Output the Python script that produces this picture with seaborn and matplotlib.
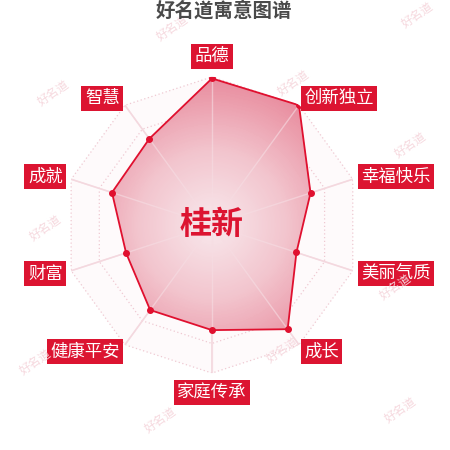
import numpy as np
import matplotlib
matplotlib.use("Agg")
import matplotlib.pyplot as plt
import seaborn as sns
from matplotlib.colors import LinearSegmentedColormap

sns.set_style("white")
plt.rcParams['font.family'] = ['Noto Sans CJK SC', 'DejaVu Sans']

TITLE = "好名道寓意图谱"
NAME = "桂新"
categories = ["品德", "创新独立", "幸福快乐", "美丽气质", "成长",
              "家庭传承", "健康平安", "财富", "成就", "智慧"]
scores = [99, 100, 70, 60, 87, 71, 71, 61, 71, 72]
rings = [20, 40, 60, 80, 100]
MAX_SCORE = 100

RED = "#dc1431"
LINE_RED = "#e0102f"

# watermark spots (pixel positions on the 450x450 canvas)
wm_x = [172, 417, 293, 53, 410, 45, 35, 282, 160, 400, 395]
wm_y = [28, 15, 83, 93, 145, 228, 362, 350, 420, 410, 287]


def draw_watermarks(fig):
    for x, y in zip(wm_x, wm_y):
        fig.text(x / 450, 1 - y / 450, "好名道", rotation=35, fontsize=8.5,
                 color="#f6d8de", ha="center", va="center", zorder=0)


def draw_radar(fig):
    ax = fig.add_axes([0.142, 0.171, 0.658, 0.658], projection="polar")
    ax.set_theta_zero_location("N")
    ax.set_theta_direction(-1)
    ax.set_ylim(0, MAX_SCORE)
    ax.grid(False)
    ax.set_xticks([])
    ax.set_yticks([])
    ax.spines["polar"].set_visible(False)
    ax.patch.set_alpha(0)

    n = len(categories)
    angles = np.linspace(0, 2 * np.pi, n, endpoint=False)
    closed = np.append(angles, angles[0])

    # faint backdrop of the outer decagon
    ax.fill(closed, [MAX_SCORE] * (n + 1), color="#fefafb", zorder=1, lw=0)

    # dotted rings and spokes
    for r in rings:
        ax.plot(closed, [r] * (n + 1), color="#efc9d2", lw=0.9,
                ls=(0, (1, 2)), zorder=2)
    for a in angles:
        ax.plot([a, a], [0, MAX_SCORE], color="#f2d3da", lw=1.1, zorder=2)

    # score polygon with radial gradient fill
    vals = np.append(scores, scores[0])
    poly = ax.fill(closed, vals, facecolor="none", edgecolor="none", zorder=3)[0]
    cmap = LinearSegmentedColormap.from_list(
        "grad", ["#f8e8ec", "#f2c4cd", "#e88b9d"])
    th = np.linspace(0, 2 * np.pi, 181)
    rr = np.linspace(0, MAX_SCORE, 101)
    T, R = np.meshgrid(th, rr)
    mesh = ax.pcolormesh(T, R, R[:-1, :-1], cmap=cmap, vmin=0, vmax=MAX_SCORE,
                         shading="flat", zorder=3)
    mesh.set_clip_path(poly)
    # spokes visible through the fill
    for a in angles:
        ax.plot([a, a], [0, MAX_SCORE], color="#f6dde3", lw=1.0, alpha=0.6,
                zorder=4)
    ax.plot(closed, vals, color=LINE_RED, lw=1.3, zorder=5)
    ax.plot(angles, scores, "o", color=LINE_RED, ms=4, zorder=6)

    # axis name tags
    for a, label in zip(angles, categories):
        deg = np.degrees(a)
        if deg < 1 or abs(deg - 180) < 1:
            ha = "center"
            r = 114 if deg < 1 else 113
        elif deg < 180:
            ha = "left"
            r = 106
        else:
            ha = "right"
            r = 106
        ax.text(a, r, label, ha=ha, va="center", color="white", fontsize=12.5,
                bbox=dict(boxstyle="square,pad=0.2", fc=RED, ec="none"),
                zorder=7, clip_on=False)

    ax.text(0, 0, NAME, ha="center", va="center", color=RED, fontsize=23,
            fontweight="bold", zorder=8)
    return ax


fig = plt.figure(figsize=(4.5, 4.5), dpi=100)
fig.patch.set_facecolor("white")
draw_watermarks(fig)
draw_radar(fig)
fig.text(224 / 450, 1 - 11 / 450, TITLE, ha="center", va="center",
         fontsize=14, fontweight="bold", color="#4a4a4a")
fig.savefig("out.png", dpi=100)
